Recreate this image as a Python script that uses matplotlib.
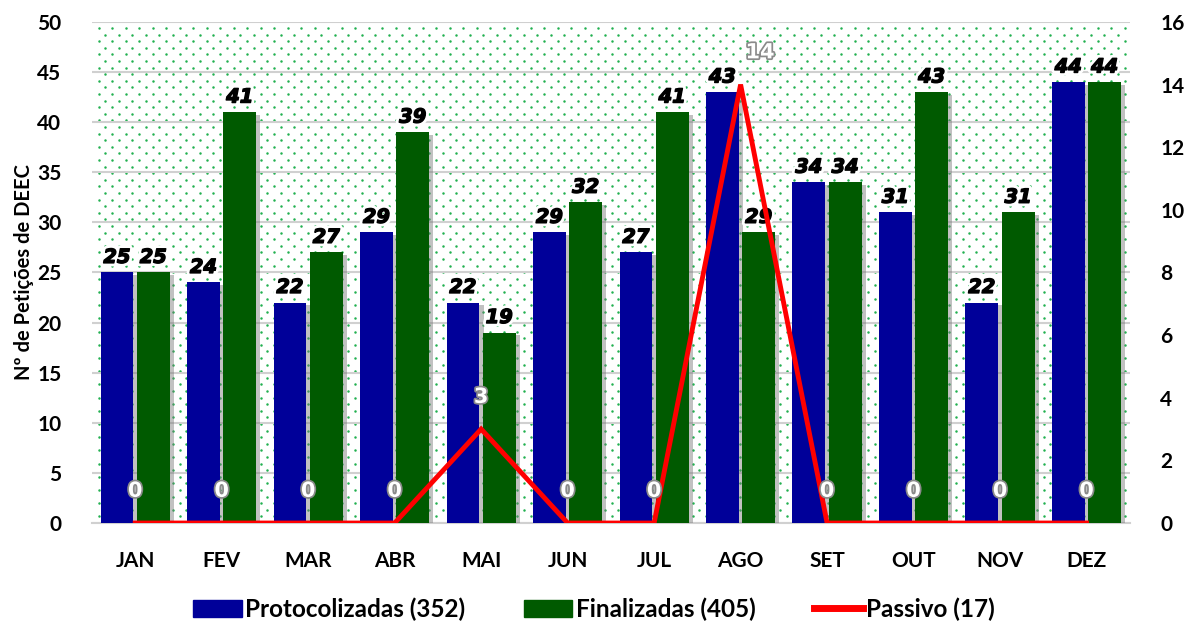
import numpy as np
import matplotlib.pyplot as plt
import matplotlib.patheffects as pe
from matplotlib.patches import Patch
from matplotlib.lines import Line2D

meses = ["JAN", "FEV", "MAR", "ABR", "MAI", "JUN", "JUL", "AGO", "SET", "OUT", "NOV", "DEZ"]
protocolizadas = [25, 24, 22, 29, 22, 29, 27, 43, 34, 31, 22, 44]
finalizadas = [25, 41, 27, 39, 19, 32, 41, 29, 34, 43, 31, 44]
passivo = [0, 0, 0, 0, 3, 0, 0, 14, 0, 0, 0, 0]

azul = "#000099"
verde = "#005a00"
vermelho = "#ff0000"

plt.rcParams['font.family'] = ['Lato', 'DejaVu Sans']

fig = plt.figure(figsize=(11.88, 6.26), dpi=100)
ax = fig.add_axes([0.0774, 0.1645, 0.8736, 0.8005])
ax2 = ax.twinx()

x = np.arange(len(meses))
w = 0.38

# fundo pontilhado (padrao decorativo em coordenadas do eixo)
larg, alt = 1038.0, 501.0
px, py = 13.5, 6.6
for k, yy in enumerate(np.arange(py, alt, py)):
    xs = np.arange(px / 2 + (k % 2) * px / 2, larg, px)
    ax.scatter(xs / larg, np.full(len(xs), yy / alt), s=3.2, color="#22b050",
               linewidths=0, transform=ax.transAxes, zorder=0)

ax.set_ylim(0, 50)
ax.set_xlim(-0.5, 11.5)
ax.set_yticks(range(0, 51, 5))
ax.grid(axis="y", color="#d0d0d0", linewidth=1.5, zorder=1)
ax.set_axisbelow(False)

sombra = [pe.SimplePatchShadow(offset=(3, -2), shadow_rgbFace="#777777", alpha=0.45), pe.Normal()]
ax.bar(x - 0.21, protocolizadas, w, color=azul, zorder=3, path_effects=sombra)
ax.bar(x + 0.21, finalizadas, w, color=verde, zorder=3, path_effects=sombra)

contorno = [pe.Stroke(linewidth=5, foreground="white"),
            pe.Stroke(linewidth=1.0, foreground="black"), pe.Normal()]
fonte_rot = dict(family="DejaVu Sans", fontsize=14, fontweight="bold", style="italic")
for xi, v in zip(x, protocolizadas):
    ax.annotate(str(v), (xi - 0.21, v), xytext=(0, 4), textcoords="offset points",
                ha="center", va="bottom", color="black", path_effects=contorno,
                zorder=6, **fonte_rot)
for xi, v in zip(x, finalizadas):
    ax.annotate(str(v), (xi + 0.21, v), xytext=(0, 4), textcoords="offset points",
                ha="center", va="bottom", color="black", path_effects=contorno,
                zorder=6, **fonte_rot)

ax2.plot(x, passivo, color=vermelho, linewidth=3.5, zorder=5, solid_joinstyle="miter")
ax2.set_ylim(0, 16)
ax2.set_yticks(range(0, 17, 2))
contorno2 = [pe.withStroke(linewidth=2.5, foreground="#8a8a8a")]
for xi, v in zip(x, passivo):
    dx = 14 if v == 14 else 0
    ax2.annotate(str(v), (xi, v), xytext=(dx, 16), textcoords="offset points",
                 ha="center", va="bottom", family="DejaVu Sans", fontsize=15,
                 fontweight="bold", color="white", path_effects=contorno2, zorder=7)

ax.set_xticks(x)
ax.set_xticklabels(meses)
for a in (ax, ax2):
    for s in a.spines.values():
        s.set_visible(False)
    a.tick_params(length=0, labelsize=15)
    for lab in a.get_yticklabels() + a.get_xticklabels():
        lab.set_fontweight("bold")
ax.spines["bottom"].set_visible(True)
ax.spines["bottom"].set_color("#d0d0d0")
ax.spines["bottom"].set_linewidth(1.5)
ax.tick_params(axis="x", pad=20)
ax.tick_params(axis="y", pad=22)
ax2.tick_params(axis="y", pad=22)

ax.set_ylabel("Nº de Petições de DEEC", fontsize=14.5, fontweight="bold", labelpad=2)

handles = [Patch(color=azul), Patch(color=verde), Line2D([], [], color=vermelho, linewidth=5)]
labels = ["Protocolizadas (352)", "Finalizadas (405)", "Passivo (17)"]
fig.legend(handles, labels, loc="center", bbox_to_anchor=(0.5, 0.027), ncol=3,
           frameon=False, prop={"size": 17.5, "weight": "bold"}, handlelength=2.0,
           handleheight=0.7, handletextpad=0.15, columnspacing=2.4)

fig.savefig("out.png", dpi=100)
